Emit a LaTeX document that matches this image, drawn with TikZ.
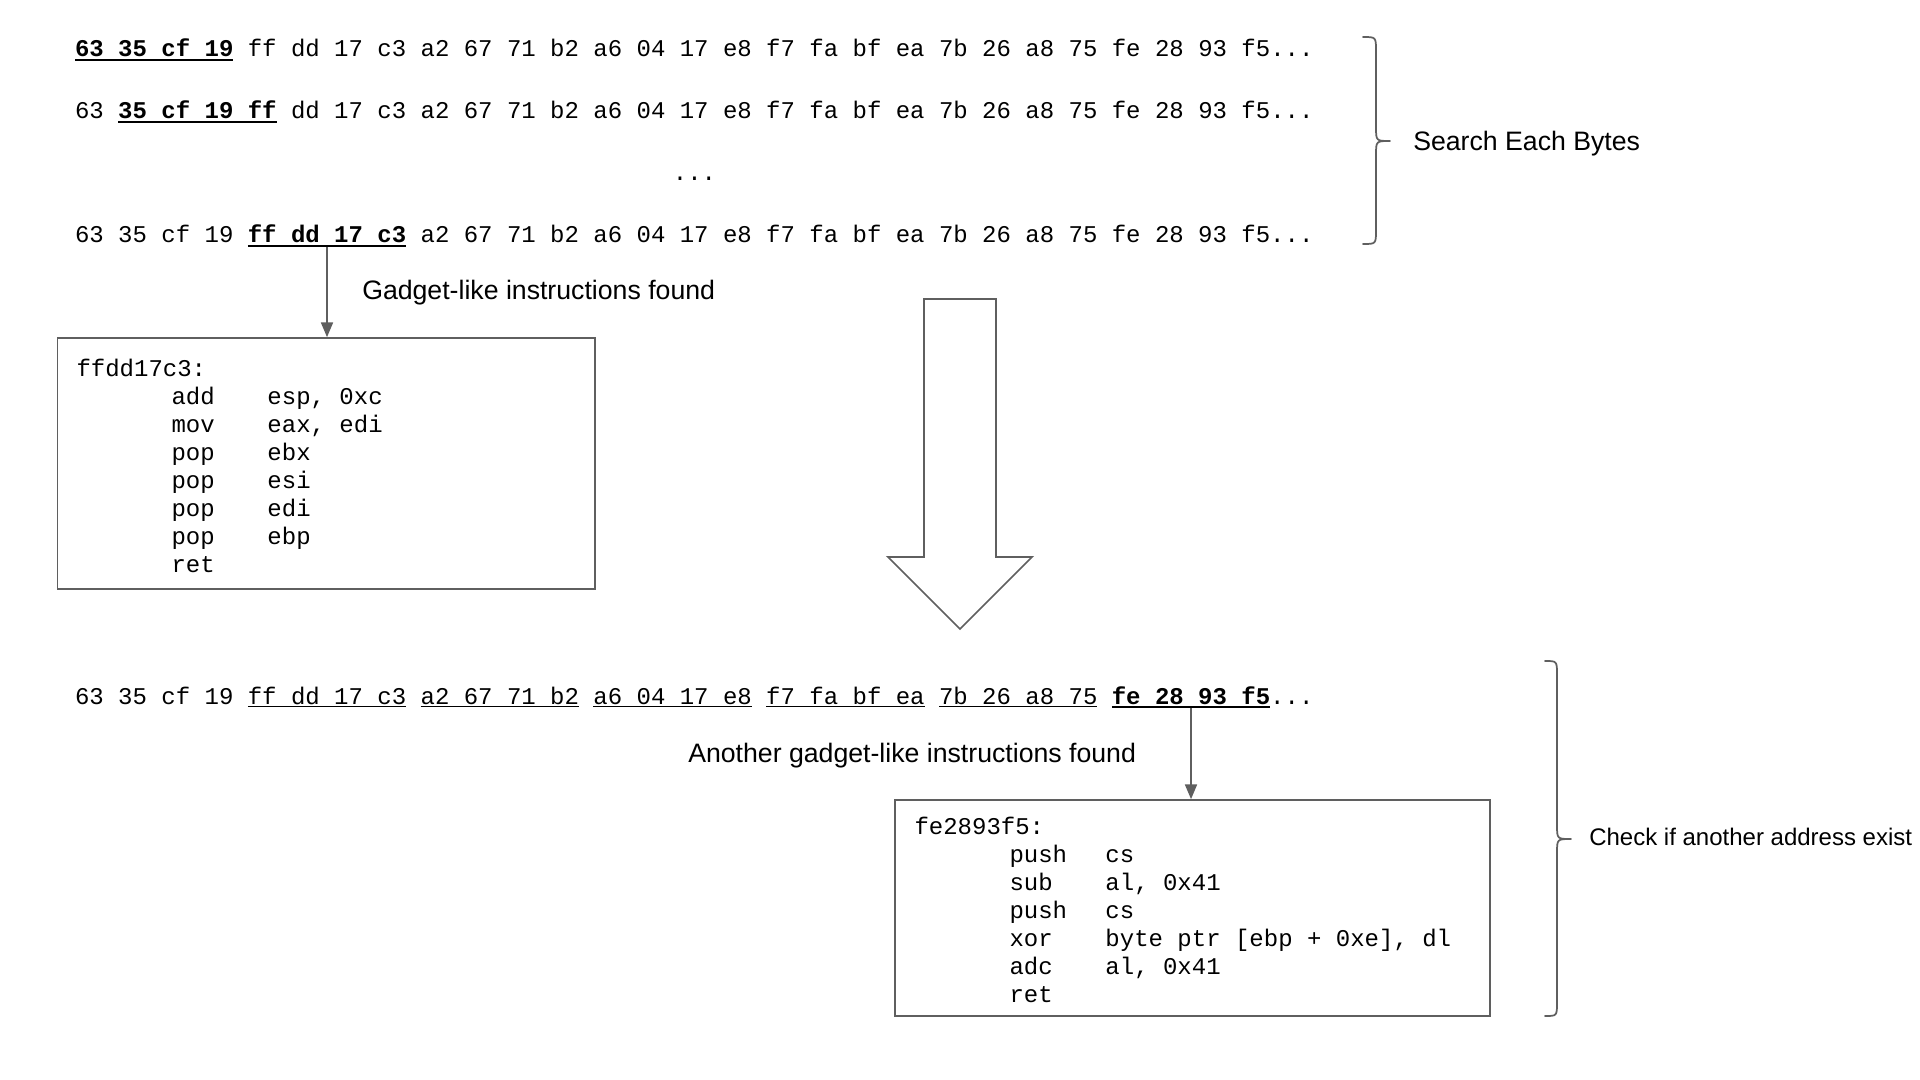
\documentclass[tikz,border=0pt]{standalone}
\usepackage{fontspec}
\setmainfont{Liberation Sans}
\setmonofont{Liberation Mono}
\usetikzlibrary{arrows.meta,fit}
\definecolor{lc}{RGB}{95,95,95}
\newcommand\hexfont{\ttfamily\fontsize{18pt}{20.95pt}\selectfont}
\begin{document}
\begin{tikzpicture}[x=0.75pt,y=-0.75pt,
  hex/.style={inner sep=0pt, outer sep=0pt, anchor=base west, font=\hexfont},
  hexb/.style={hex, font=\hexfont\bfseries},
  ulb/.style={line width=1.6pt, black},
  ulp/.style={line width=1.1pt, black},
  box/.style={draw=lc, line width=1.3pt, inner sep=0pt},
  conn/.style={draw=lc, line width=1.2pt, -{Triangle[width=9pt,length=11pt]}},
  lbl/.style={inner sep=0pt, anchor=base west},
  brace/.style={draw=lc, line width=1.3pt, line join=round, line cap=round}]
\fill[white] (0,0) rectangle (1920,1080);
\useasboundingbox (0,0) rectangle (1920,1080);

% row 1
\node[hexb] (r1a) at ({75+14.4*0},57) {63 35 cf 19};
\node[hex]  (r1b) at ({75+14.4*12},57) {ff dd 17 c3 a2 67 71 b2 a6 04 17 e8 f7 fa bf ea 7b 26 a8 75 fe 28 93 f5...};
\draw[ulb] ([yshift=-2pt]r1a.base west) -- ([yshift=-2pt]r1a.base east);
% row 2
\node[hex]  (r2a) at ({75+14.4*0},119) {63};
\node[hexb] (r2b) at ({75+14.4*3},119) {35 cf 19 ff};
\node[hex]  (r2c) at ({75+14.4*15},119) {dd 17 c3 a2 67 71 b2 a6 04 17 e8 f7 fa bf ea 7b 26 a8 75 fe 28 93 f5...};
\draw[ulb] ([yshift=-2pt]r2b.base west) -- ([yshift=-2pt]r2b.base east);
% row 3
\node[hex, anchor=base] (r3) at (694.5,181) {...};
% row 4
\node[hex]  (r4a) at ({75+14.4*0},243) {63 35 cf 19};
\node[hexb] (r4b) at ({75+14.4*12},243) {ff dd 17 c3};
\node[hex]  (r4c) at ({75+14.4*24},243) {a2 67 71 b2 a6 04 17 e8 f7 fa bf ea 7b 26 a8 75 fe 28 93 f5...};
\draw[ulb] ([yshift=-2pt]r4b.base west) -- ([yshift=-2pt]r4b.base east);

% brace 1
\draw[brace] (1363,37) .. controls (1376,37) .. (1376,51) -- (1376,127)
  .. controls (1376,141) .. (1390,141) .. controls (1376,141) .. (1376,155)
  -- (1376,230) .. controls (1376,244) .. (1363,244);
\node[lbl, font=\fontsize{20pt}{24pt}\selectfont] (search) at (1413,151) {Search Each Bytes};

% gadget 1
\node[lbl, font=\fontsize{20pt}{24pt}\selectfont] (g1lbl) at (362,300) {Gadget-like instructions found};
\node[box, fit={(57.5,338) (595,589)}] (box1) {};
\node[hex] (box1t) at (76.5,376.5) {\begin{tabular}[t]{@{}l@{}}
ffdd17c3:\\
\hspace*{71.25pt}\makebox[72pt][l]{add}esp, 0xc\\
\hspace*{71.25pt}\makebox[72pt][l]{mov}eax, edi\\
\hspace*{71.25pt}\makebox[72pt][l]{pop}ebx\\
\hspace*{71.25pt}\makebox[72pt][l]{pop}esi\\
\hspace*{71.25pt}\makebox[72pt][l]{pop}edi\\
\hspace*{71.25pt}\makebox[72pt][l]{pop}ebp\\
\hspace*{71.25pt}\makebox[72pt][l]{ret}
\end{tabular}};
\draw[conn] ([yshift=-3pt]r4b.base) -- (r4b.base |- box1.north);

% big arrow
\draw[draw=lc, line width=1.3pt, fill=white, line join=miter]
  (924,299) -- (996,299) -- (996,557) -- (1032,557) -- (960,629) -- (888,557) -- (924,557) -- cycle;

% row 5
\node[hex]  (r5a) at ({75+14.4*0},704) {63 35 cf 19};
\node[hex]  (r5b) at ({75+14.4*12},704) {ff dd 17 c3};
\node[hex]  (r5c) at ({75+14.4*24},704) {a2 67 71 b2};
\node[hex]  (r5d) at ({75+14.4*36},704) {a6 04 17 e8};
\node[hex]  (r5e) at ({75+14.4*48},704) {f7 fa bf ea};
\node[hex]  (r5f) at ({75+14.4*60},704) {7b 26 a8 75};
\node[hexb] (r5g) at ({75+14.4*72},704) {fe 28 93 f5};
\node[hex]  (r5h) at ({75+14.4*83},704) {...};
\foreach \n in {r5b,r5c,r5d,r5e,r5f}{
  \draw[ulp] ([yshift=-2pt]\n.base west) -- ([yshift=-2pt]\n.base east);
}
\draw[ulb] ([yshift=-2pt]r5g.base west) -- ([yshift=-2pt]r5g.base east);

% gadget 2
\node[lbl, font=\fontsize{20pt}{24pt}\selectfont] (g2lbl) at (688,762) {Another gadget-like instructions found};
\node[box, fit={(895,800) (1490,1016)}] (box2) {};
\node[hex] (box2t) at (914.5,834.5) {\begin{tabular}[t]{@{}l@{}}
fe2893f5:\\
\hspace*{71.25pt}\makebox[72pt][l]{push}cs\\
\hspace*{71.25pt}\makebox[72pt][l]{sub}al, 0x41\\
\hspace*{71.25pt}\makebox[72pt][l]{push}cs\\
\hspace*{71.25pt}\makebox[72pt][l]{xor}byte ptr [ebp + 0xe], dl\\
\hspace*{71.25pt}\makebox[72pt][l]{adc}al, 0x41\\
\hspace*{71.25pt}\makebox[72pt][l]{ret}
\end{tabular}};
\draw[conn] ([yshift=-3pt]r5g.base) -- (r5g.base |- box2.north);

% brace 2
\draw[brace] (1545,661) .. controls (1557,661) .. (1557,675) -- (1557,825)
  .. controls (1557,839) .. (1571,839) .. controls (1557,839) .. (1557,853)
  -- (1557,1002) .. controls (1557,1016) .. (1545,1016);
\node[lbl, font=\fontsize{18pt}{22pt}\selectfont] (check) at (1589,845) {Check if another address exist};
\end{tikzpicture}
\end{document}
